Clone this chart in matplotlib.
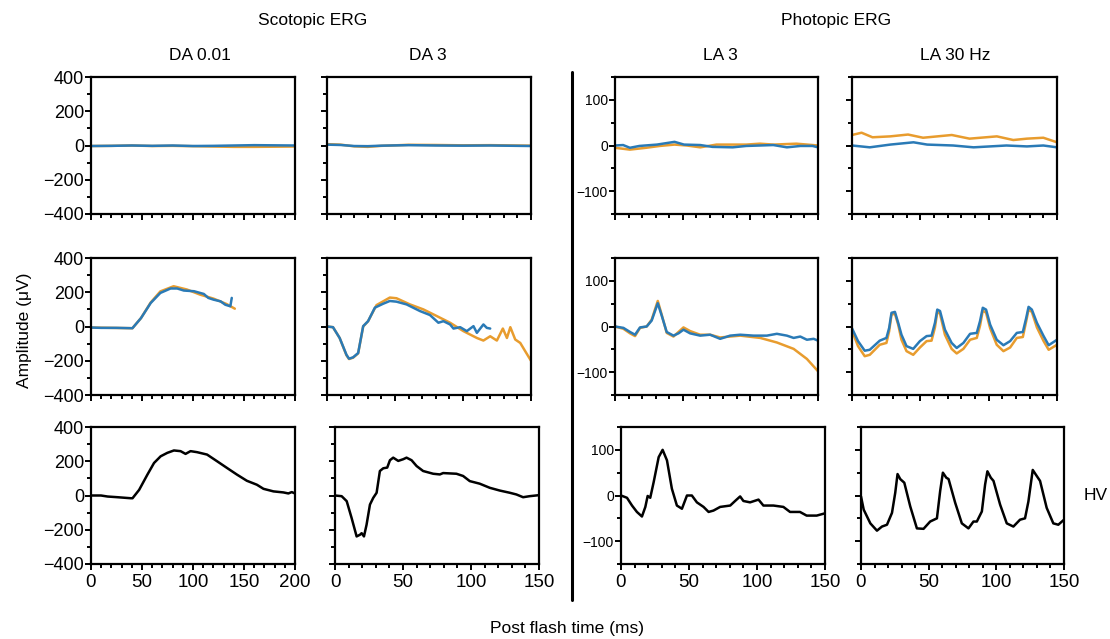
import matplotlib
matplotlib.use("Agg")
import matplotlib.pyplot as plt
from matplotlib.ticker import MultipleLocator

plt.rcParams['font.family'] = ['Liberation Sans', 'DejaVu Sans']
plt.rcParams['lines.solid_joinstyle'] = 'round'
plt.rcParams['lines.solid_capstyle'] = 'round'

BLUE = '#2a7ab6'
ORANGE = '#e89c2e'

# ---- data (time in ms, amplitude in uV) ----
# top row: flat responses
da001_top_t = [0, 20, 40, 60, 80, 100, 120, 140, 160, 180, 200]
da001_top_blue = [-3, -2, 0, -2, 0, -3, -2, 0, 2, 1, 0]
da001_top_orange = [-3, -2, 0, -3, -2, -4, -6, -8, -8, -7, -6]

da3_top_t = [0, 10, 20, 30, 40, 60, 80, 100, 120, 140, 150]
da3_top_blue = [5, 3, -3, -4, -1, 2, 0, -1, 0, -2, -3]
da3_top_orange = [8, 5, -5, -8, -2, 4, 3, 1, 2, 0, -1]

la3_top_blue_t = [0, 6, 11, 18, 31, 44, 51, 63, 72, 87, 97, 107, 117, 127, 137, 146, 150]
la3_top_blue = [0, 1, -5, -1, 2, 8, 2, 1, -3, -4, -1, 0, 1, -4, -1, -1, -4]
la3_top_orange_t = [0, 11, 23, 33, 44, 53, 63, 75, 97, 107, 117, 134, 150]
la3_top_orange = [-5, -9, -5, -1, 2, 0, -4, 2, 2, 4, 2, 4, 0]

la30_top_orange_t = [0, 7, 15, 28, 41, 52, 73, 86, 106, 118, 128, 140, 150]
la30_top_orange = [23, 28, 18, 20, 24, 17, 23, 15, 20, 12, 15, 17, 7]
la30_top_blue_t = [0, 13, 28, 45, 55, 74, 89, 113, 128, 140, 150]
la30_top_blue = [0, -4, 2, 7, 2, 0, -4, 0, -2, 0, -4]

# middle row: two eyes overlaid
da001_mid_blue_t = [0, 10, 25, 40.6, 49, 58.5, 68, 78, 84.5, 91, 101, 110.6, 115, 120, 127, 131.7, 136.6, 138]
da001_mid_blue = [-6, -8, -8, -10, 49, 137, 196, 222, 222, 210, 206, 190, 167, 157, 147, 127, 118, 167]
da001_mid_orange_t = [0, 40.6, 49, 58.5, 68, 81, 94, 107, 120, 133, 141]
da001_mid_orange = [-6, -10, 49, 140, 205, 235, 216, 186, 163, 131, 104]

da3_mid_blue_t = [0, 4.4, 9.3, 14.3, 16.2, 19.2, 22.9, 26.6, 30.2, 35.2, 41.3, 46.2, 51.1, 58.5,
                  68.4, 75.7, 81.9, 85.6, 90.5, 93, 97.9, 102.8, 107.7, 110.2, 115, 117.5, 120]
da3_mid_blue = [0, -4, -67, -165, -188, -180, -155, 2, 31, 110, 133, 149, 145, 129,
                90, 67, 22, 31, 12, -12, -4, -27, 2, -37, 12, -8, -12]
da3_mid_orange_t = [0, 4.4, 9.3, 14.3, 16.2, 19.2, 22.9, 26.6, 30.2, 36.4, 46.2, 51.1, 61, 70.8,
                    80.7, 90.5, 100.3, 110.2, 115, 120, 124.9, 129.3, 132.3, 134.8, 138.4, 142.1, 145.8, 150]
da3_mid_orange = [0, -4, -67, -168, -190, -182, -157, 0, 31, 125, 169, 165, 129, 100,
                  61, 22, -27, -67, -82, -57, -82, -12, -67, -4, -76, -96, -145, -200]

la3_mid_blue_t = [0, 6.2, 11.1, 14.8, 18.5, 23.4, 27.1, 31.6, 34.5, 38.2, 43.2, 46.9, 50.6, 55.5,
                  62.9, 70.3, 77.7, 85.1, 92.5, 102.4, 112.2, 119.6, 127, 132, 136.9, 141.8, 146.8, 150]
la3_mid_blue = [0, -3, -12, -18, -2, 0, 13, 51, 24, -12, -20, -15, -7, -15,
                -20, -18, -27, -20, -18, -20, -20, -16, -20, -25, -22, -29, -27, -31]
la3_mid_orange_t = [0, 6.2, 11.1, 14.8, 18.5, 23.4, 27.1, 31.6, 34.5, 38.2, 43.2, 46.9, 50.6, 55.5,
                    62.9, 70.3, 77.7, 92.5, 107.3, 119.6, 132, 141.8, 150]
la3_mid_orange = [0, -5, -15, -21, -3, 0, 15, 56, 26, -14, -22, -12, -2, -10,
                  -18, -18, -24, -20, -25, -35, -49, -71, -98]

la30_mid_t = [0, 4.4, 9.3, 13, 20.3, 25.2, 27.2, 28.9, 31.4, 33.8, 36.2, 39.9, 44.8, 49.7,
              54.6, 58.2, 60.7, 62.4, 64.4, 68, 72.9, 76.6, 81.5, 86.4, 91.3, 93.7, 95.7,
              98.1, 101.1, 105.9, 110.8, 115.7, 120.6, 125, 127.5, 129.2, 131.6, 135.3, 140.2, 143.9, 150]
la30_mid_blue = [-4, -32, -53, -51, -31, -25, -3, 30, 32, 8, -18, -43, -49, -32,
                 -21, -20, 8, 37, 34, -7, -36, -47, -36, -16, -14, 12, 41,
                 37, 4, -29, -41, -32, -14, -12, 19, 43, 37, 8, -21, -41, -29]
la30_mid_orange = [-9, -43, -65, -62, -40, -36, -10, 26, 28, 4, -29, -54, -62, -46,
                   -32, -31, -2, 32, 28, -18, -49, -59, -49, -29, -25, 2, 35,
                   30, -4, -40, -54, -46, -25, -23, 12, 37, 32, -2, -32, -51, -40]

# bottom row: single black traces
da001_bot_t = [0, 9.8, 16.3, 26, 39, 40.7, 47.2, 55.3, 61.8, 68.3, 74.8, 81.3, 87.8, 92.7, 97.6,
               104, 113.8, 123.6, 133.3, 143.1, 152.8, 162.6, 169.1, 178.9, 188.6, 193.5, 196.8, 200]
da001_bot = [0, 0, -6, -10, -16, -16, 33, 122, 190, 229, 249, 263, 259, 243, 259,
             253, 239, 200, 161, 122, 86, 63, 39, 24, 18, 12, 20, 12]

da3_bot_t = [0, 4.9, 8.6, 12.2, 15.9, 18.4, 19.6, 21.3, 23.2, 25.7, 28.1, 30.6, 33, 35.5, 38.4,
             40.4, 42.8, 46.5, 50.2, 52.6, 56.3, 60, 64.8, 72.2, 77.1, 79.5, 89.3, 94.2, 99.1,
             106.4, 113.8, 121.1, 128.5, 133.4, 138.3, 143.1, 150]
da3_bot = [0, -4, -33, -131, -239, -229, -220, -239, -171, -53, -14, 16, 143, 159, 163,
           206, 221, 202, 212, 221, 206, 172, 143, 127, 123, 131, 127, 114, 84,
           69, 45, 29, 16, 6, -10, -4, 2]

la3_bot_t = [0, 4.4, 8.1, 11.7, 15.4, 17.9, 19.6, 21.5, 24, 27.7, 30.6, 33.8, 37.4, 41.1, 44.8,
             48.5, 52.1, 55.8, 60.7, 64.4, 68, 72.9, 80.3, 83.9, 87.6, 90, 94.9, 101.1, 104.7,
             112.1, 119.4, 124.3, 131.6, 136.5, 143.9, 150]
la3_bot = [0, -5, -22, -36, -46, -25, -1, -5, 29, 84, 100, 77, 15, -22, -29,
           0, 0, -15, -25, -36, -33, -25, -22, -12, -2, -12, -15, -9, -22,
           -22, -25, -36, -36, -44, -44, -39]

la30_bot_t = [0, 2, 6.9, 11.8, 15.5, 19.2, 22.9, 25.3, 27, 29, 32, 36.4, 41.3, 46.2, 51.1, 56.1,
              58.5, 60.5, 63, 64.7, 69.6, 74.5, 79.4, 83.1, 85.6, 89.3, 91.7, 93.4, 95.9, 97.9,
              102.8, 107.7, 112.6, 117.5, 121.2, 123.7, 126.9, 129.8, 132.3, 137.2, 142.1, 145.8, 150]
la30_bot = [-2, -31, -61, -77, -68, -64, -38, 6, 47, 36, 28, -24, -72, -73, -57, -50,
            10, 50, 39, 36, -16, -61, -72, -57, -57, -35, 24, 53, 39, 32,
            -20, -61, -68, -53, -50, -13, 56, 43, 32, -27, -61, -64, -53]

W, H = 1110, 639
fig = plt.figure(figsize=(W / 100, H / 100), dpi=100)


def add_panel(left, top, right, bottom, scotopic, xmax, ylabels, xlabels):
    ax = fig.add_axes([left / W, 1 - bottom / H, (right - left) / W, (bottom - top) / H])
    ax.set_xlim(0, xmax)
    if scotopic:
        ax.set_ylim(-400, 400)
        ax.yaxis.set_major_locator(MultipleLocator(200))
        ax.yaxis.set_minor_locator(MultipleLocator(100))
        ysize = 13
    else:
        ax.set_ylim(-150, 150)
        ax.yaxis.set_major_locator(MultipleLocator(100))
        ax.yaxis.set_minor_locator(MultipleLocator(50))
        ysize = 10
    ax.xaxis.set_major_locator(MultipleLocator(50))
    ax.xaxis.set_minor_locator(MultipleLocator(10))
    for s in ax.spines.values():
        s.set_linewidth(1.6)
    ax.tick_params(which='both', direction='out', width=1.4, pad=2)
    ax.tick_params(which='major', length=4)
    ax.tick_params(which='minor', length=3)
    ax.tick_params(axis='y', labelsize=ysize, pad=1)
    ax.tick_params(axis='x', labelsize=13.5, pad=3)
    if not ylabels:
        ax.set_yticklabels([])
    if not xlabels:
        ax.set_xticklabels([])
    return ax


rows = [(77, 214), (258, 395), (427, 564)]
lw = 1.8

# column 1: DA 0.01
ax = add_panel(91, rows[0][0], 295, rows[0][1], True, 200, True, False)
ax.plot(da001_top_t, da001_top_orange, color=ORANGE, lw=lw)
ax.plot(da001_top_t, da001_top_blue, color=BLUE, lw=lw)
ax = add_panel(91, rows[1][0], 295, rows[1][1], True, 200, True, False)
ax.plot(da001_mid_orange_t, da001_mid_orange, color=ORANGE, lw=lw)
ax.plot(da001_mid_blue_t, da001_mid_blue, color=BLUE, lw=lw)
ax = add_panel(91, rows[2][0], 295, rows[2][1], True, 200, True, True)
ax.plot(da001_bot_t, da001_bot, color='black', lw=lw)

# column 2: DA 3
ax = add_panel(327, rows[0][0], 531, rows[0][1], True, 150, False, False)
ax.plot(da3_top_t, da3_top_orange, color=ORANGE, lw=lw)
ax.plot(da3_top_t, da3_top_blue, color=BLUE, lw=lw)
ax = add_panel(327, rows[1][0], 531, rows[1][1], True, 150, False, False)
ax.plot(da3_mid_orange_t, da3_mid_orange, color=ORANGE, lw=lw)
ax.plot(da3_mid_blue_t, da3_mid_blue, color=BLUE, lw=lw)
ax = add_panel(335, rows[2][0], 539, rows[2][1], True, 150, False, True)
ax.plot(da3_bot_t, da3_bot, color='black', lw=lw)

# column 3: LA 3
ax = add_panel(615, rows[0][0], 818, rows[0][1], False, 150, True, False)
ax.plot(la3_top_orange_t, la3_top_orange, color=ORANGE, lw=lw)
ax.plot(la3_top_blue_t, la3_top_blue, color=BLUE, lw=lw)
ax = add_panel(615, rows[1][0], 818, rows[1][1], False, 150, True, False)
ax.plot(la3_mid_orange_t, la3_mid_orange, color=ORANGE, lw=lw)
ax.plot(la3_mid_blue_t, la3_mid_blue, color=BLUE, lw=lw)
ax = add_panel(621, rows[2][0], 825, rows[2][1], False, 150, True, True)
ax.plot(la3_bot_t, la3_bot, color='black', lw=lw)

# column 4: LA 30 Hz
ax = add_panel(852, rows[0][0], 1057, rows[0][1], False, 150, False, False)
ax.plot(la30_top_orange_t, la30_top_orange, color=ORANGE, lw=lw)
ax.plot(la30_top_blue_t, la30_top_blue, color=BLUE, lw=lw)
ax = add_panel(852, rows[1][0], 1057, rows[1][1], False, 150, False, False)
ax.plot(la30_mid_t, la30_mid_orange, color=ORANGE, lw=lw)
ax.plot(la30_mid_t, la30_mid_blue, color=BLUE, lw=lw)
ax = add_panel(861, rows[2][0], 1064, rows[2][1], False, 150, False, True)
ax.plot(la30_bot_t, la30_bot, color='black', lw=lw)

# divider between scotopic and photopic
fig.add_artist(plt.Line2D([572 / W, 572 / W], [1 - 72 / H, 1 - 600 / H], color='black', lw=2.2))


def ftext(x, y, s, **kw):
    fig.text(x / W, 1 - y / H, s, ha='center', va='center', fontsize=12.5, **kw)


ftext(313, 20, 'Scotopic ERG')
ftext(836, 20, 'Photopic ERG')
ftext(200, 56, 'DA 0.01')
ftext(428, 56, 'DA 3')
ftext(720, 56, 'LA 3')
ftext(955, 56, 'LA 30 Hz')
ftext(25, 330, 'Amplitude (μV)', rotation=90)
ftext(567, 628, 'Post flash time (ms)')
ftext(1096, 495, 'HV')

fig.savefig('out.png', dpi=100)
